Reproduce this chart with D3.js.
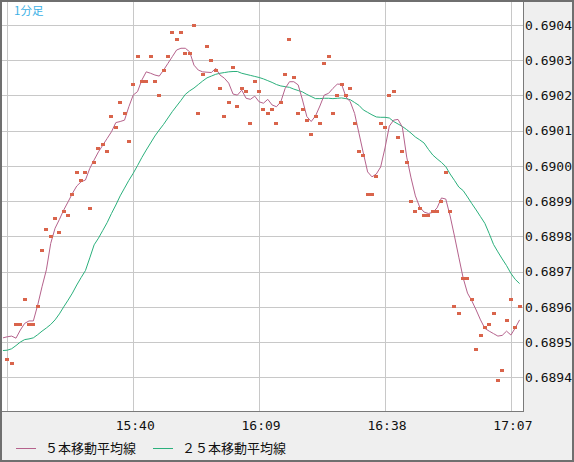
<!DOCTYPE html>
<html>
<head>
<meta charset="utf-8">
<script src="https://cdnjs.cloudflare.com/ajax/libs/d3/7.8.5/d3.min.js"></script>
<style>
body { margin: 0; background: #efefef; }
svg { display: block; }
</style>
</head>
<body>
<svg width="574" height="462"></svg>
<script>
// 1-minute bars, first close at 15:11, moving averages start one minute earlier
const closeStart = "15:11";
const maStart = "15:10";

const closes = [
  0.68945,0.68944,0.68955,0.68955,0.68962,0.68955,0.68955,0.68960,0.68976,0.68982,
  0.68980,0.68985,0.68981,0.68987,0.68986,0.68992,0.68998,0.68996,0.68998,0.68988,
  0.69001,0.69005,0.69006,0.69004,0.69014,0.69011,0.69018,0.69015,0.69007,0.69023,
  0.69031,0.69024,0.69024,0.69031,0.69024,0.69020,0.69027,0.69031,0.69038,0.69036,
  0.69038,0.69032,0.69032,0.69040,0.69015,0.69026,0.69034,0.69030,0.69027,0.69022,
  0.69014,0.69018,0.69028,0.69017,0.69022,0.69021,0.69012,0.69024,0.69021,0.69016,
  0.69015,0.69016,0.69012,0.69018,0.69026,0.69036,0.69025,0.69015,0.69016,0.69013,
  0.69009,0.69014,0.69012,0.69029,0.69031,0.69015,0.69020,0.69023,0.69020,0.69022,
  0.69012,0.69004,0.69003,0.68992,0.68992,0.68997,0.69012,0.69011,0.69020,0.69021,
  0.69008,0.69004,0.69001,0.68990,0.68987,0.68988,0.68986,0.68986,0.68987,0.68987,
  0.68990,0.68998,0.68987,0.68960,0.68958,0.68968,0.68968,0.68962,0.68948,0.68952,
  0.68954,0.68955,0.68958,0.68939,0.68942,0.68956,0.68962,0.68954,0.68960
];

const ma5 = [
  0.689512,0.689515,0.689517,0.689511,0.689534,0.689553,0.689560,0.689560,0.689605,0.689657,
  0.689705,0.689780,0.689823,0.689848,0.689875,0.689898,0.689922,0.689943,0.689955,0.689960,
  0.689993,0.690017,0.690040,0.690059,0.690078,0.690097,0.690123,0.690126,0.690130,0.690168,
  0.690201,0.690211,0.690244,0.690267,0.690263,0.690258,0.690255,0.690272,0.690291,0.690310,
  0.690329,0.690334,0.690334,0.690324,0.690286,0.690272,0.690267,0.690266,0.690265,0.690277,
  0.690258,0.690249,0.690235,0.690204,0.690201,0.690215,0.690192,0.690189,0.690198,0.690182,
  0.690178,0.690189,0.690173,0.690168,0.690182,0.690220,0.690239,0.690239,0.690230,0.690187,
  0.690140,0.690126,0.690142,0.690170,0.690201,0.690206,0.690220,0.690232,0.690232,0.690196,
  0.690182,0.690149,0.690093,0.690037,0.689983,0.689969,0.689977,0.689997,0.690051,0.690113,
  0.690130,0.690132,0.690110,0.690025,0.689966,0.689915,0.689883,0.689869,0.689865,0.689868,
  0.689881,0.689909,0.689906,0.689858,0.689801,0.689741,0.689682,0.689639,0.689617,0.689591,
  0.689563,0.689539,0.689531,0.689524,0.689517,0.689519,0.689531,0.689520,0.689540,0.689563
];

const ma25 = [
  0.689476,0.689477,0.689481,0.689490,0.689500,0.689507,0.689509,0.689512,0.689521,0.689531,
  0.689540,0.689550,0.689563,0.689580,0.689600,0.689619,0.689639,0.689662,0.689683,0.689703,
  0.689739,0.689776,0.689795,0.689817,0.689839,0.689865,0.689889,0.689915,0.689937,0.689959,
  0.689979,0.690001,0.690024,0.690045,0.690065,0.690085,0.690102,0.690118,0.690136,0.690154,
  0.690170,0.690186,0.690203,0.690213,0.690221,0.690231,0.690241,0.690250,0.690255,0.690260,
  0.690263,0.690265,0.690267,0.690268,0.690268,0.690263,0.690260,0.690257,0.690254,0.690251,
  0.690247,0.690242,0.690237,0.690231,0.690227,0.690225,0.690223,0.690218,0.690214,0.690210,
  0.690203,0.690197,0.690191,0.690191,0.690192,0.690192,0.690191,0.690192,0.690193,0.690191,
  0.690188,0.690180,0.690172,0.690159,0.690152,0.690145,0.690139,0.690138,0.690138,0.690136,
  0.690126,0.690119,0.690112,0.690103,0.690093,0.690082,0.690074,0.690065,0.690047,0.690031,
  0.690020,0.690010,0.689998,0.689977,0.689959,0.689940,0.689930,0.689912,0.689893,0.689875,
  0.689856,0.689837,0.689808,0.689777,0.689756,0.689736,0.689717,0.689695,0.689678,0.689666
];

const xGridTimes = ["15:11", "15:40", "16:09", "16:38", "17:07"];
const xTickLabels = ["15:40", "16:09", "16:38", "17:07"];
const yTicks = [0.6894, 0.6895, 0.6896, 0.6897, 0.6898, 0.6899, 0.6900, 0.6901, 0.6902, 0.6903, 0.6904];

const title = "1分足";
const legendNames = ["５本移動平均線", "２５本移動平均線"];
const colors = ["#b5628c", "#2bb07c"];

const parseT = d3.timeParse("%H:%M");
const t0 = parseT(closeStart), tm = parseT(maStart);

const closeData = closes.map((v, i) => ({t: d3.timeMinute.offset(t0, i), v: v}));
const ma5Data = ma5.map((v, i) => ({t: d3.timeMinute.offset(tm, i), v: v}));
const ma25Data = ma25.map((v, i) => ({t: d3.timeMinute.offset(tm, i), v: v}));

// plot area: x 2..523, y 2..411
const x = d3.scaleTime()
  .domain([parseT("15:11"), parseT("17:07")])
  .range([7.3, 510.9]);

const y = d3.scaleLinear()
  .domain([0.6894, 0.6904])
  .range([377.3, 25]);

const svg = d3.select("svg");
const mono = "'DejaVu Sans Mono', 'Liberation Mono', monospace";
const jp = "'Noto Sans CJK JP', sans-serif";

svg.append("defs").append("clipPath").attr("id", "plot")
  .append("rect").attr("x", 2).attr("y", 2).attr("width", 521).attr("height", 409);

svg.append("rect")
  .attr("x", 2).attr("y", 2).attr("width", 521).attr("height", 409)
  .attr("fill", "white");

const plot = svg.append("g").attr("clip-path", "url(#plot)");

// grid
plot.selectAll(".hg")
  .data(yTicks)
  .enter()
  .append("line")
  .attr("x1", 2).attr("x2", 523)
  .attr("y1", d => Math.round(y(d)) + 0.5)
  .attr("y2", d => Math.round(y(d)) + 0.5)
  .attr("stroke", "#c8c8c8");

plot.selectAll(".vg")
  .data(xGridTimes)
  .enter()
  .append("line")
  .attr("x1", d => Math.round(x(parseT(d))) + 0.5)
  .attr("x2", d => Math.round(x(parseT(d))) + 0.5)
  .attr("y1", 2).attr("y2", 411)
  .attr("stroke", "#c8c8c8");

const line = d3.line().x(d => x(d.t)).y(d => y(d.v));

plot.append("path")
  .datum(ma25Data)
  .attr("d", line)
  .attr("fill", "none")
  .attr("stroke", colors[1])
  .attr("stroke-width", 1);

plot.append("path")
  .datum(ma5Data)
  .attr("d", line)
  .attr("fill", "none")
  .attr("stroke", colors[0])
  .attr("stroke-width", 1);

// close points as small squares, snapped to whole pixels
plot.selectAll(".pt")
  .data(closeData)
  .enter()
  .append("rect")
  .attr("x", d => Math.round(x(d.t) - 2))
  .attr("y", d => Math.round(y(d.v) - 1.5))
  .attr("width", 4)
  .attr("height", 3)
  .attr("shape-rendering", "crispEdges")
  .attr("fill", "#d9644b");

// title
svg.append("text")
  .attr("x", 14).attr("y", 15)
  .style("font-family", jp)
  .style("font-size", "11.5px")
  .attr("fill", "#3bb0e6")
  .text(title);

// panel borders
svg.append("line")
  .attr("x1", 523.5).attr("x2", 523.5).attr("y1", 0).attr("y2", 412)
  .attr("stroke", "#7a7a7a");
svg.append("line")
  .attr("x1", 0).attr("x2", 524).attr("y1", 411.5).attr("y2", 411.5)
  .attr("stroke", "#7a7a7a");

// right price axis
const yAxis = svg.append("g")
  .attr("transform", "translate(523,0)")
  .call(d3.axisRight(y).tickValues(yTicks).tickFormat(d3.format(".4f")).tickSize(0).tickPadding(2));
yAxis.select(".domain").remove();
yAxis.selectAll("text")
  .style("font-family", mono)
  .style("font-size", "13px")
  .attr("fill", "#111");

// time labels
svg.selectAll(".xl")
  .data(xTickLabels)
  .enter()
  .append("text")
  .attr("x", d => x(parseT(d)) + 2)
  .attr("y", 429.5)
  .attr("text-anchor", "middle")
  .style("font-family", mono)
  .style("font-size", "13px")
  .attr("fill", "#111")
  .text(d => d);

// legend
const legendX = [16, 153];
legendNames.forEach((name, i) => {
  svg.append("line")
    .attr("x1", legendX[i]).attr("x2", legendX[i] + 20)
    .attr("y1", 448.5).attr("y2", 448.5)
    .attr("stroke", colors[i]);
  svg.append("text")
    .attr("x", legendX[i] + 29).attr("y", 453)
    .style("font-family", jp)
    .style("font-size", "13px")
    .attr("fill", "#111")
    .text(name);
});

// outer frame
svg.append("rect")
  .attr("x", 1).attr("y", 1).attr("width", 572).attr("height", 460)
  .attr("fill", "none")
  .attr("stroke", "#6f6f6f")
  .attr("stroke-width", 2);
</script>
</body>
</html>
